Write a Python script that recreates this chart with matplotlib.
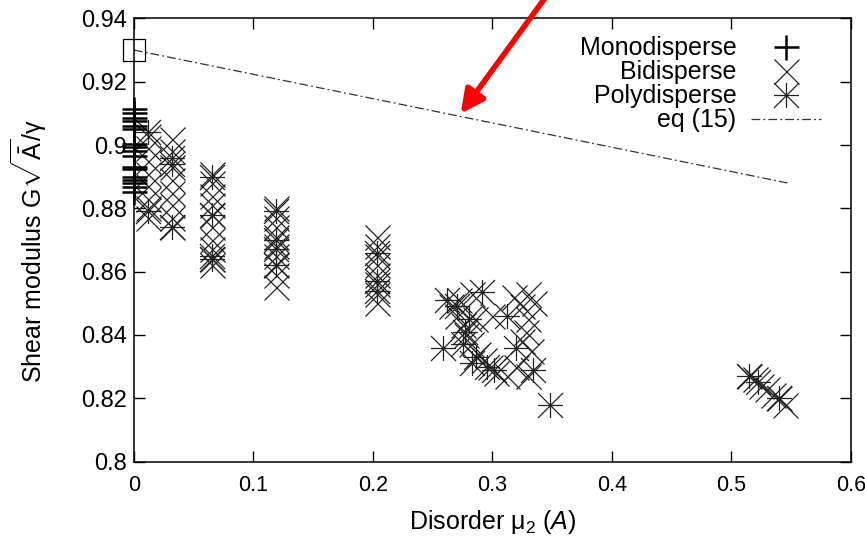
import numpy as np
import matplotlib
matplotlib.use("Agg")
import matplotlib.pyplot as plt
from matplotlib.path import Path

plt.rcParams['font.family'] = ['Liberation Sans', 'DejaVu Sans']
plt.rcParams['mathtext.fontset'] = 'custom'
plt.rcParams['mathtext.rm'] = 'Liberation Sans'
plt.rcParams['mathtext.it'] = 'Liberation Sans:italic'
plt.rcParams['mathtext.sf'] = 'Liberation Sans'

# monodisperse: all at zero disorder
mono_y = [0.9114, 0.9101, 0.9085, 0.9076, 0.9060, 0.9050, 0.9003, 0.8993,
          0.8980, 0.8964, 0.8932, 0.8923, 0.8900, 0.8890, 0.8881, 0.8866, 0.8853]
mono_x = [0.0] * len(mono_y)

# bidisperse
bi_x = [0.012, 0.012, 0.012, 0.012, 0.012, 0.012, 0.012, 0.012,
        0.032, 0.032, 0.032, 0.032, 0.032, 0.032, 0.032, 0.032,
        0.065, 0.065, 0.065, 0.065, 0.065, 0.065, 0.065, 0.065, 0.065, 0.065,
        0.119, 0.119, 0.119, 0.119, 0.119, 0.119, 0.119, 0.119, 0.119,
        0.203, 0.203, 0.203, 0.203, 0.203, 0.203, 0.203, 0.203,
        0.265, 0.270, 0.275, 0.278, 0.282, 0.288, 0.293, 0.298, 0.303, 0.272, 0.285,
        0.318, 0.325, 0.330, 0.335, 0.330, 0.328, 0.325, 0.332, 0.320, 0.312, 0.330,
        0.300, 0.283,
        0.515, 0.520, 0.525, 0.530, 0.535, 0.540, 0.545]
bi_y = [0.903, 0.899, 0.895, 0.891, 0.887, 0.883, 0.880, 0.877,
        0.902, 0.898, 0.893, 0.889, 0.885, 0.881, 0.877, 0.874,
        0.891, 0.888, 0.884, 0.881, 0.878, 0.874, 0.870, 0.867, 0.864, 0.862,
        0.880, 0.877, 0.874, 0.871, 0.868, 0.865, 0.862, 0.859, 0.855,
        0.871, 0.868, 0.865, 0.862, 0.859, 0.856, 0.853, 0.850,
        0.849, 0.846, 0.843, 0.840, 0.837, 0.834, 0.832, 0.830, 0.828, 0.851, 0.845,
        0.852, 0.849, 0.853, 0.850, 0.845, 0.841, 0.838, 0.835, 0.830, 0.827, 0.827,
        0.846, 0.853,
        0.827, 0.826, 0.824, 0.823, 0.821, 0.820, 0.818]

# polydisperse
poly_x = [0.012, 0.012, 0.032, 0.032, 0.032, 0.065, 0.065, 0.065, 0.065,
          0.119, 0.119, 0.119, 0.119, 0.203, 0.203, 0.203,
          0.262, 0.270, 0.291, 0.259, 0.277, 0.286, 0.280, 0.295, 0.301,
          0.312, 0.320, 0.334, 0.348, 0.275, 0.283,
          0.515, 0.522, 0.540]
poly_y = [0.904, 0.879, 0.896, 0.894, 0.874, 0.890, 0.878, 0.865, 0.864,
          0.879, 0.870, 0.867, 0.862, 0.866, 0.857, 0.854,
          0.851, 0.849, 0.8535, 0.836, 0.841, 0.833, 0.845, 0.830, 0.829,
          0.846, 0.836, 0.829, 0.818, 0.837, 0.831,
          0.827, 0.825, 0.820]

# eq (15) and the ordered reference point
eq_x = [0.0, 0.547]
eq_y = [0.930, 0.888]
ref_x = [0.0]
ref_y = [0.930]

# gnuplot style asterisk: plus and cross together
star = Path([(-1, 0), (1, 0), (0, -1), (0, 1), (-1, -1), (1, 1), (-1, 1), (1, -1)],
            [Path.MOVETO, Path.LINETO] * 4)

fig = plt.figure(figsize=(8.65, 5.39), dpi=100)
ax = fig.add_axes([0.1549, 0.1436, 0.8289, 0.8223])

ax.plot(bi_x, bi_y, ls='none', marker='x', ms=18, mew=0.9, color='#222222',
        label='Bidisperse', zorder=3)
ax.plot(poly_x, poly_y, ls='none', marker=star, ms=18, mew=0.9, color='#222222',
        label='Polydisperse', zorder=3)
ax.plot(mono_x, mono_y, ls='none', marker='+', ms=18, mew=1.8, color='black',
        label='Monodisperse', zorder=4, clip_on=False)
ax.plot(eq_x, eq_y, ls='-.', lw=0.9, color='#333333', label='eq (15)',
        dashes=(7, 2.5, 1.5, 2.5), zorder=2)
ax.plot(ref_x, ref_y, ls='none', marker='s', ms=16, mfc='none', mew=0.9,
        color='black', clip_on=False, zorder=4)

ax.set_xlim(0, 0.6)
ax.set_ylim(0.8, 0.94)
ax.set_xticks([0, 0.1, 0.2, 0.3, 0.4, 0.5, 0.6])
ax.set_xticklabels(['0', '0.1', '0.2', '0.3', '0.4', '0.5', '0.6'])
ax.set_yticks([0.8, 0.82, 0.84, 0.86, 0.88, 0.9, 0.92, 0.94])
ax.set_yticklabels(['0.8', '0.82', '0.84', '0.86', '0.88', '0.9', '0.92', '0.94'])
ax.tick_params(direction='in', top=True, right=True, length=8, width=1)
ax.tick_params(axis='x', labelsize=15.5, pad=10)
ax.tick_params(axis='y', labelsize=17, pad=5)
for s in ax.spines.values():
    s.set_linewidth(1.1)

ax.set_xlabel(r'Disorder $\mathrm{\mu_2}$ ($\mathit{A}$)', fontsize=18, labelpad=8)
ax.set_ylabel(r'Shear modulus G$\mathrm{\sqrt{\bar{A}}/\gamma}$', fontsize=18)
ax.yaxis.set_label_coords(-0.118, 0.475)

h, l = ax.get_legend_handles_labels()
order = [2, 0, 1, 3]
ax.legend([h[i] for i in order], [l[i] for i in order], loc='upper right',
          bbox_to_anchor=(0.99, 1.01), frameon=False, markerfirst=False,
          fontsize=18, handlelength=2.8, labelspacing=0.0, handletextpad=0.6)

# red arrow pointing at the eq (15) line
ax.annotate('', xy=(0.272, 0.9092), xytext=(0.345, 0.947),
            arrowprops=dict(arrowstyle='-|>', color='red', lw=4,
                            mutation_scale=35),
            annotation_clip=False)

fig.savefig('out.png', dpi=100)
